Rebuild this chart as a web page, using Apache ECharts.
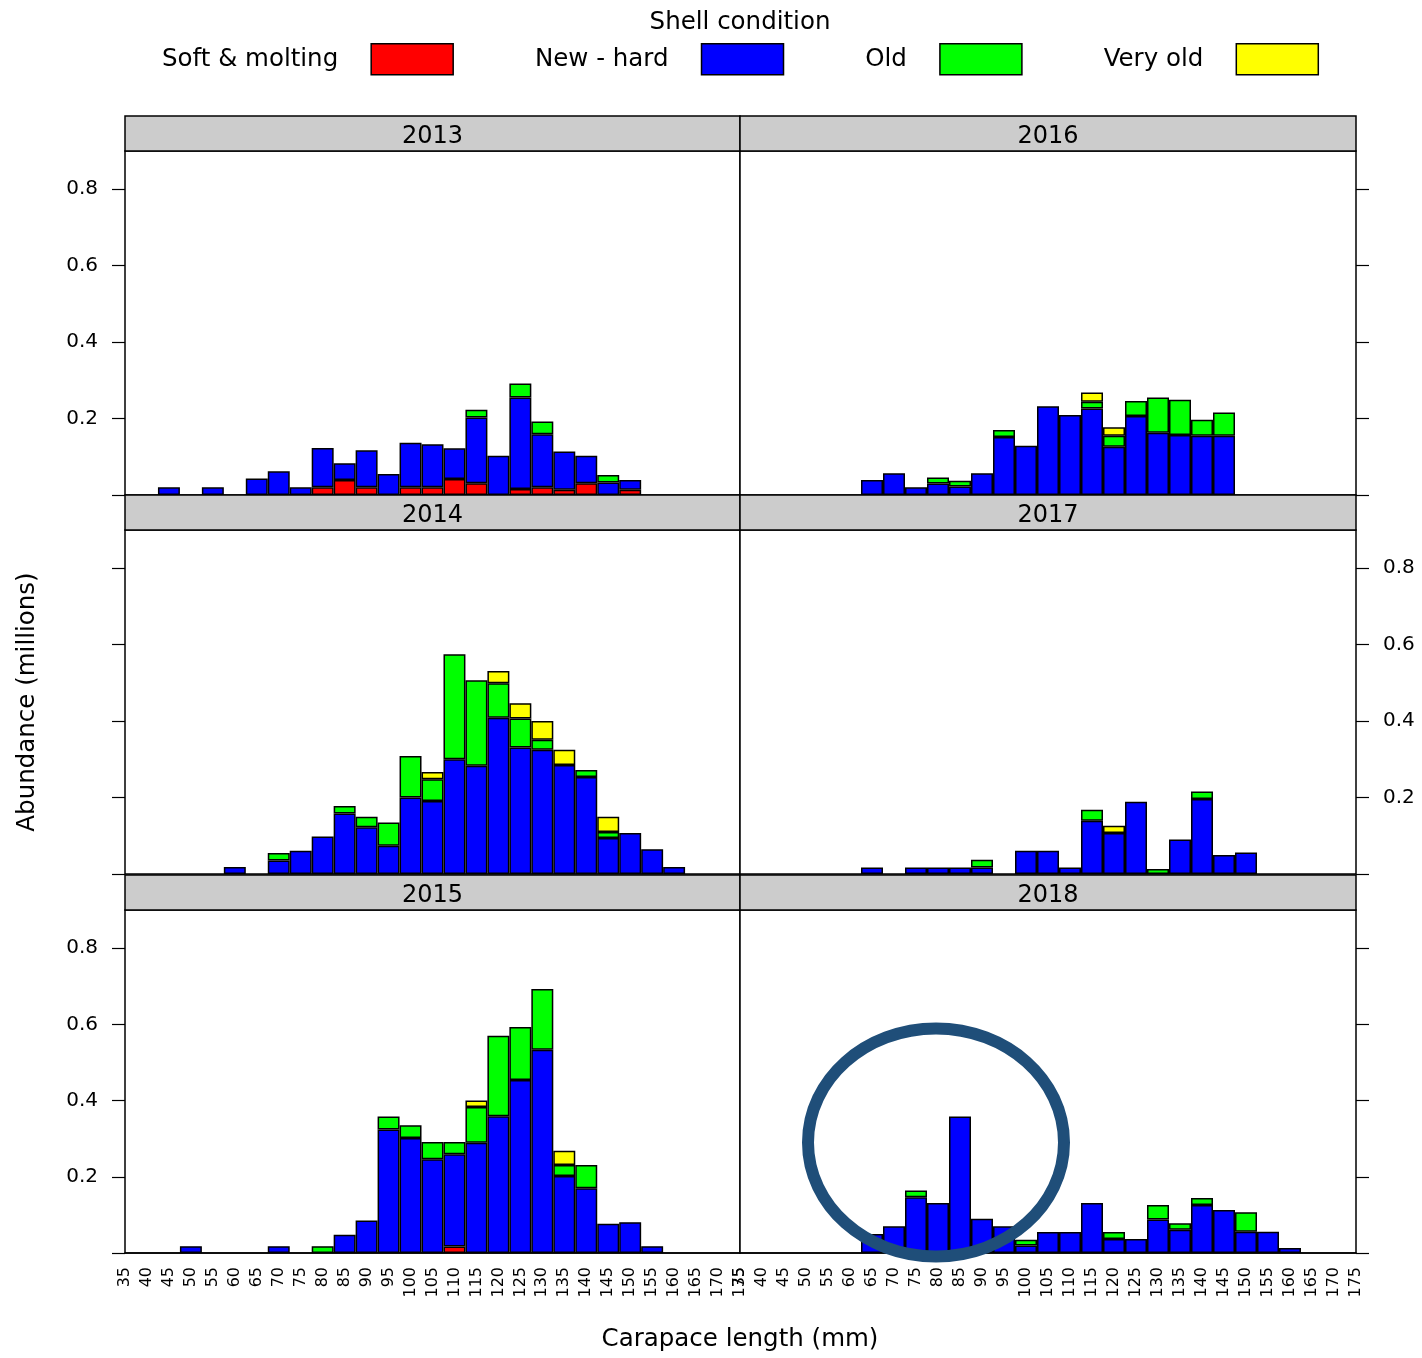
<!DOCTYPE html>
<html><head><meta charset="utf-8">
<script src="https://cdn.jsdelivr.net/npm/echarts@6/dist/echarts.min.js"></script>
<style>html,body{margin:0;padding:0;background:#fff}#c{width:1422px;height:1358px}</style>
</head><body><div id="c"></div>
<script>
// ---- categories / ticks ----
const lengthBins = ['35','40','45','50','55','60','65','70','75','80','85','90','95','100','105','110','115','120','125','130','135','140','145','150','155','160','165','170','175'];
const yTickValues = [0.2, 0.4, 0.6, 0.8];
const seriesNames = ['Soft & molting', 'New - hard', 'Old', 'Very old'];

// ---- data (millions), one entry per length bin ----
const soft2013 = [0,0,0,0,0,0,0,0,0,0.020,0.039,0.020,0,0.020,0.020,0.042,0.031,0,0.016,0.020,0.014,0.031,0,0.014,0,0,0,0,0];
const hard2013 = [0,0,0.020,0,0.020,0,0.043,0.062,0.020,0.103,0.044,0.097,0.055,0.117,0.113,0.080,0.172,0.103,0.239,0.139,0.100,0.072,0.033,0.025,0,0,0,0,0];
const old2013  = [0,0,0,0,0,0,0,0,0,0,0,0,0,0,0,0,0.020,0,0.037,0.033,0,0,0.019,0,0,0,0,0,0];
const vold2013 = [0,0,0,0,0,0,0,0,0,0,0,0,0,0,0,0,0,0,0,0,0,0,0,0,0,0,0,0,0];

const soft2014 = [0,0,0,0,0,0,0,0,0,0,0,0,0,0,0,0,0,0,0,0,0,0,0,0,0,0,0,0,0];
const hard2014 = [0,0,0,0,0,0.018,0,0.035,0.061,0.098,0.158,0.122,0.074,0.200,0.191,0.300,0.283,0.409,0.331,0.325,0.285,0.254,0.094,0.107,0.065,0.018,0,0,0];
const old2014  = [0,0,0,0,0,0,0,0.020,0,0,0.020,0.028,0.061,0.109,0.057,0.275,0.224,0.090,0.076,0.026,0,0.018,0.016,0,0,0,0,0,0];
const vold2014 = [0,0,0,0,0,0,0,0,0,0,0,0,0,0,0.019,0,0,0.032,0.040,0.049,0.040,0,0.040,0,0,0,0,0,0];

const soft2015 = [0,0,0,0,0,0,0,0,0,0,0,0,0,0,0,0.017,0,0,0,0,0,0,0,0,0,0,0,0,0];
const hard2015 = [0,0,0,0.018,0,0,0,0.018,0,0,0.048,0.085,0.324,0.302,0.246,0.242,0.289,0.359,0.454,0.533,0.202,0.170,0.077,0.081,0.018,0,0,0,0];
const old2015  = [0,0,0,0,0,0,0,0,0,0.018,0,0,0.034,0.033,0.045,0.032,0.094,0.211,0.139,0.160,0.029,0.061,0,0,0,0,0,0,0];
const vold2015 = [0,0,0,0,0,0,0,0,0,0,0,0,0,0,0,0,0.017,0,0,0,0.037,0,0,0,0,0,0,0,0];

const soft2016 = [0,0,0,0,0,0,0,0,0,0,0,0,0,0,0,0,0,0,0,0,0,0,0,0,0,0,0,0,0];
const hard2016 = [0,0,0,0,0,0,0.039,0.057,0.020,0.030,0.022,0.057,0.152,0.129,0.232,0.209,0.226,0.126,0.207,0.163,0.157,0.155,0.155,0,0,0,0,0,0];
const old2016  = [0,0,0,0,0,0,0,0,0,0.016,0.015,0,0.018,0,0,0,0.018,0.029,0.039,0.092,0.092,0.042,0.061,0,0,0,0,0,0];
const vold2016 = [0,0,0,0,0,0,0,0,0,0,0,0,0,0,0,0,0.024,0.022,0,0,0,0,0,0,0,0,0,0,0];

const soft2017 = [0,0,0,0,0,0,0,0,0,0,0,0,0,0,0,0,0,0,0,0,0,0,0,0,0,0,0,0,0];
const hard2017 = [0,0,0,0,0,0,0.017,0,0.017,0.017,0.017,0.017,0,0.061,0.061,0.017,0.139,0.107,0.189,0,0.090,0.196,0.050,0.056,0,0,0,0,0];
const old2017  = [0,0,0,0,0,0,0,0,0,0,0,0.020,0,0,0,0,0.029,0,0,0.013,0,0.020,0,0,0,0,0,0,0];
const vold2017 = [0,0,0,0,0,0,0,0,0,0,0,0,0,0,0,0,0,0.019,0,0,0,0,0,0,0,0,0,0,0];

const soft2018 = [0,0,0,0,0,0,0,0,0,0,0,0,0,0,0,0,0,0,0,0,0,0,0,0,0,0,0,0,0];
const hard2018 = [0,0,0,0,0,0,0.050,0.070,0.146,0.131,0.358,0.090,0.070,0.020,0.055,0.055,0.131,0.037,0.037,0.088,0.061,0.126,0.113,0.056,0.056,0.013,0,0,0];
const old2018  = [0,0,0,0,0,0,0,0,0.018,0,0,0,0,0.015,0,0,0,0.018,0,0.038,0.017,0.018,0,0.051,0,0,0,0,0];
const vold2018 = [0,0,0,0,0,0,0,0,0,0,0,0,0,0,0,0,0,0,0,0,0,0,0,0,0,0,0,0,0];

// highlighted region (annotation) in 2018 panel
const highlightBin = '80';
const highlightValue = 0.29;

// ---- panels (lattice order) ----
const panelYears = ['2013', '2016', '2014', '2017', '2015', '2018'];
const panelSeries = {
  '2013': [soft2013, hard2013, old2013, vold2013],
  '2014': [soft2014, hard2014, old2014, vold2014],
  '2015': [soft2015, hard2015, old2015, vold2015],
  '2016': [soft2016, hard2016, old2016, vold2016],
  '2017': [soft2017, hard2017, old2017, vold2017],
  '2018': [soft2018, hard2018, old2018, vold2018]
};

// ---- styling / layout ----
const FONT = '"DejaVu Sans", sans-serif';
const colors = ['#ff0000', '#0000ff', '#00ff00', '#ffff00'];
const cols = [{left: 125, width: 615}, {left: 740, width: 616}];
const rows = [{top: 151, height: 344}, {top: 530, height: 344}, {top: 910, height: 343}];
const STRIP_H = 35;

const grids = [], xAxes = [], yAxes = [], series = [], graphics = [];
panelYears.forEach((yr, i) => {
  const r = Math.floor(i / 2), c = i % 2;
  grids.push({left: cols[c].left, top: rows[r].top, width: cols[c].width, height: rows[r].height,
    show: true, borderColor: '#000', borderWidth: 1.5, backgroundColor: '#fff'});
  const bottom = r === 2;
  xAxes.push({type: 'category', gridIndex: i, data: lengthBins, boundaryGap: false,
    axisLine: {show: bottom, lineStyle: {color: '#000', width: 1.5}}, axisTick: {show: false},
    axisLabel: {show: bottom, rotate: 90, interval: 0, fontFamily: FONT, fontSize: 16, color: '#000', margin: 14},
    splitLine: {show: false}});
  const labelled = (c === 0 && r !== 1) || (c === 1 && r === 1);
  yAxes.push({type: 'value', gridIndex: i, min: 0, max: 0.9, position: c === 0 ? 'left' : 'right',
    axisLine: {show: false},
    axisTick: {show: true, length: 13, lineStyle: {color: '#000', width: 1.2}, customValues: [0].concat(yTickValues)},
    axisLabel: {show: labelled, customValues: yTickValues, fontFamily: FONT, fontSize: 20, color: '#000', margin: 27,
      formatter: v => v.toFixed(1)},
    splitLine: {show: false}});
  panelSeries[yr].forEach((arr, k) => {
    series.push({name: seriesNames[k], type: 'bar', xAxisIndex: i, yAxisIndex: i, stack: 'p' + i,
      barCategoryGap: '0%', barGap: '0%',
      data: arr.map(v => (v > 0 ? v : null)),
      itemStyle: {color: colors[k], borderColor: '#000', borderWidth: 1.5},
      emphasis: {disabled: true}});
  });
  graphics.push({type: 'rect', id: 'strip' + i, z: 10,
    shape: {x: cols[c].left, y: rows[r].top - STRIP_H, width: cols[c].width, height: STRIP_H},
    style: {fill: '#cccccc', stroke: '#000', lineWidth: 1.5}});
  graphics.push({type: 'text', id: 'stripText' + i, z: 11,
    x: cols[c].left + cols[c].width / 2, y: rows[r].top - STRIP_H / 2 + 3,
    style: {text: yr, font: '24px ' + FONT, fill: '#000', align: 'center', verticalAlign: 'middle'}});
});

graphics.push({type: 'text', id: 'legendTitle', x: 740, y: 23,
  style: {text: 'Shell condition', font: '24.5px ' + FONT, fill: '#000', align: 'center', verticalAlign: 'middle'}});
graphics.push({type: 'text', id: 'yTitle', x: 28, y: 702, rotation: Math.PI / 2,
  style: {text: 'Abundance (millions)', font: '24.5px ' + FONT, fill: '#000', align: 'center', verticalAlign: 'middle'}});
graphics.push({type: 'text', id: 'xTitle', x: 740, y: 1340,
  style: {text: 'Carapace length (mm)', font: '24.5px ' + FONT, fill: '#000', align: 'center', verticalAlign: 'middle'}});

const chart = echarts.init(document.getElementById('c'), null, {renderer: 'canvas'});
chart.setOption({
  animation: false,
  backgroundColor: '#fff',
  textStyle: {fontFamily: FONT},
  legend: {data: seriesNames, left: 162, top: 43, padding: 0, align: 'right', orient: 'horizontal',
    itemWidth: 82, itemHeight: 31, itemGap: 81, icon: 'rect', selectedMode: false,
    itemStyle: {borderColor: '#000', borderWidth: 1.5},
    textStyle: {fontFamily: FONT, fontSize: 24.5, color: '#000', padding: [0, 28, 0, 0]}},
  grid: grids, xAxis: xAxes, yAxis: yAxes, series: series, graphic: graphics
});

const ctr = chart.convertToPixel({gridIndex: 5}, [highlightBin, highlightValue]);
chart.setOption({graphic: [{type: 'ellipse', id: 'highlight', z: 100,
  shape: {cx: ctr[0] - 2, cy: ctr[1], rx: 128, ry: 114},
  style: {fill: 'none', stroke: '#1f4e79', lineWidth: 12}}]});
</script>
</body></html>
